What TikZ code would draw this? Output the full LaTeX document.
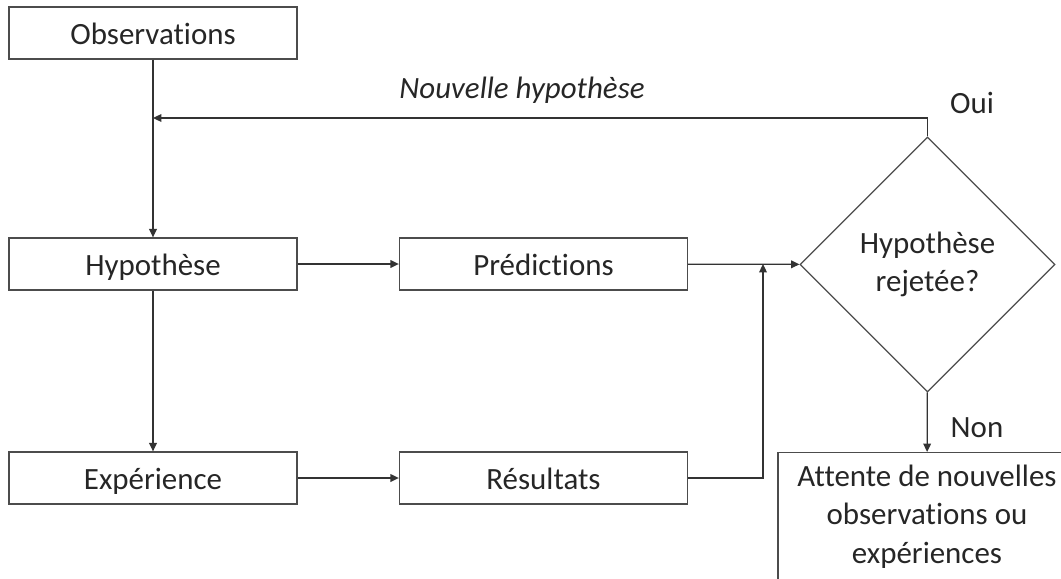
\documentclass[tikz,border=0pt]{standalone}
\usepackage{fontspec}
\setmainfont{Carlito}[Ligatures=NoCommon]
\usetikzlibrary{arrows.meta,shapes.geometric}
\tikzset{
  boite/.style={draw=black!70,line width=0.9pt,minimum width=7.2cm,minimum height=1.3cm,inner sep=0pt,text height=21pt,text depth=4pt,font=\fontsize{22}{27}\selectfont,text=black!85},
  losange/.style={draw=black!70,line width=0.9pt,diamond,minimum width=6.375cm,minimum height=6.375cm,inner sep=0pt,align=center,font=\fontsize{22}{27}\selectfont,text=black!85},
  etiquette/.style={font=\fontsize{22}{27}\selectfont,text=black!85,inner sep=0pt},
  fleche/.style={->,draw=black!80,line width=0.9pt}
}
\begin{document}
\begin{tikzpicture}[x=0.025cm,y=-0.025cm,>={Triangle[length=6pt,width=5.5pt]}]
\clip (0,0) rectangle (1061,579);
% boites
\node[boite] (obs) at (153,33) {Observations};
\node[boite] (hyp) at (153,264) {Hypothèse};
\node[boite] (exp) at (153,478) {Expérience};
\node[boite] (pred) at (543.5,264) {Prédictions};
\node[boite] (res) at (543.5,478) {Résultats};
\node[losange] (rej) at (927.5,264.5) {Hypothèse\\rejetée?};
\node[draw=black!70,line width=0.9pt,inner sep=0pt,anchor=north,align=center,minimum width=7.45cm,minimum height=3.2cm,font=\fontsize{22}{27.5}\selectfont,text=black!85] (att) at (927,452) {Attente de nouvelles\\observations ou\\expériences};
% points de passage
\coordinate (haut) at (927.5,118);
\coordinate (jonction) at (763,264);
% fleches
\draw[fleche] (obs) -- (hyp);
\draw[fleche] (hyp) -- (exp);
\draw[fleche] (hyp) -- (pred);
\draw[fleche] (exp) -- (res);
\draw[fleche] (pred) -- (rej);
\draw[fleche] (res.east) -| (jonction);
\draw[fleche] (rej.north) -- (haut) -- (haut -| obs.south);
\draw[fleche] (rej) -- (att);
% textes
\node[etiquette,font=\fontsize{22}{27}\selectfont\itshape] (nouv) at (522,90) {Nouvelle hypothèse};
\node[etiquette] (oui) at (972,103) {Oui};
\node[etiquette] (non) at (977,428) {Non};
\end{tikzpicture}
\end{document}
